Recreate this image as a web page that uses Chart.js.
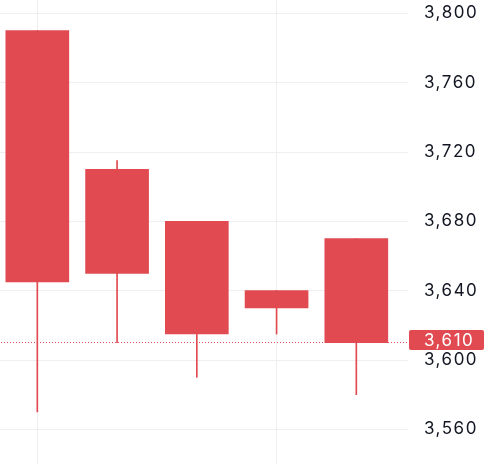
<!DOCTYPE html>
<html>
<head>
<meta charset="utf-8">
<script src="https://cdn.jsdelivr.net/npm/chart.js@4"></script>
<style>
html,body{margin:0;padding:0;background:#fff;}
#c{display:block;}
</style>
</head>
<body>
<canvas id="c" width="490" height="464"></canvas>
<script>
// Data
const categories = [0, 1, 2, 3, 4];
const openValues  = [3790, 3710, 3680, 3640, 3670];
const closeValues = [3645, 3650, 3615, 3630, 3610];
const highValues  = [3790, 3715, 3680, 3640, 3670];
const lowValues   = [3570, 3610, 3590, 3615, 3580];
const yTickValues = [3560, 3600, 3640, 3680, 3720, 3760, 3800];
const xGridValues = [0, 3];
const lastPrice = closeValues[closeValues.length - 1];

const RED = '#e04a50';
const FONT = {family: 'Inter', size: 17};
const LETTER_SPACING = '1.5px';

const bodies = categories.map((c, i) => ({x: c, y: [openValues[i], closeValues[i]]}));
const wicks = categories.map((c, i) => ({x: c, y: [lowValues[i], highValues[i]]}));

const lastPricePlugin = {
  id: 'lastPrice',
  beforeDraw(chart) {
    chart.ctx.letterSpacing = LETTER_SPACING;
  },
  afterDatasetsDraw(chart) {
    const {ctx, chartArea, scales} = chart;
    const y = Math.floor(scales.y.getPixelForValue(lastPrice));
    ctx.save();
    ctx.fillStyle = '#ea4d58';
    for (let x = Math.floor(chartArea.left) + 1; x < chartArea.right; x += 3) {
      ctx.fillRect(x, y, 1, 1);
    }
    ctx.restore();
  },
  afterDraw(chart) {
    const {ctx, chartArea, scales} = chart;
    const y = scales.y.getPixelForValue(lastPrice);
    const x0 = chartArea.right + 1, x1 = 484, h = 20;
    const top = Math.round(y - 13);
    ctx.save();
    ctx.fillStyle = RED;
    ctx.beginPath();
    ctx.roundRect(x0, top, x1 - x0, h, 2);
    ctx.fill();
    ctx.fillStyle = '#ffffff';
    ctx.font = FONT.size + 'px ' + FONT.family;
    ctx.letterSpacing = LETTER_SPACING;
    ctx.textAlign = 'left';
    ctx.textBaseline = 'middle';
    ctx.fillText(lastPrice.toLocaleString('en-US'), chartArea.right + 16, top + h / 2 + 1);
    ctx.restore();
  }
};

new Chart(document.getElementById('c'), {
  type: 'bar',
  data: {
    datasets: [
      {data: wicks, backgroundColor: RED, barThickness: 1, grouped: false, borderWidth: 0},
      {data: bodies, backgroundColor: RED, barThickness: 63, grouped: false, borderWidth: 0}
    ]
  },
  options: {
    responsive: false,
    animation: false,
    layout: {padding: 0},
    plugins: {legend: {display: false}, tooltip: {enabled: false}},
    scales: {
      x: {
        type: 'linear',
        offset: false,
        min: -0.468,
        max: 4.648,
        afterBuildTicks(scale) { scale.ticks = xGridValues.map(v => ({value: v})); },
        afterFit(scale) { scale.height = 0; scale.paddingLeft = 0; scale.paddingRight = 0; },
        ticks: {display: false},
        border: {display: false},
        grid: {color: '#efeff1', drawTicks: false, lineWidth: 1, offset: false}
      },
      y: {
        position: 'right',
        min: 3540,
        max: 3807.7,
        afterBuildTicks(scale) { scale.ticks = yTickValues.map(v => ({value: v})); },
        afterFit(scale) { scale.width = 82; scale.paddingTop = 0; scale.paddingBottom = 0; },
        ticks: {
          color: '#131722',
          font: FONT,
          padding: 16,
          callback: v => v.toLocaleString('en-US')
        },
        border: {display: false},
        grid: {color: '#efeff1', drawTicks: false, lineWidth: 1}
      }
    }
  },
  plugins: [lastPricePlugin]
});
</script>
</body>
</html>
